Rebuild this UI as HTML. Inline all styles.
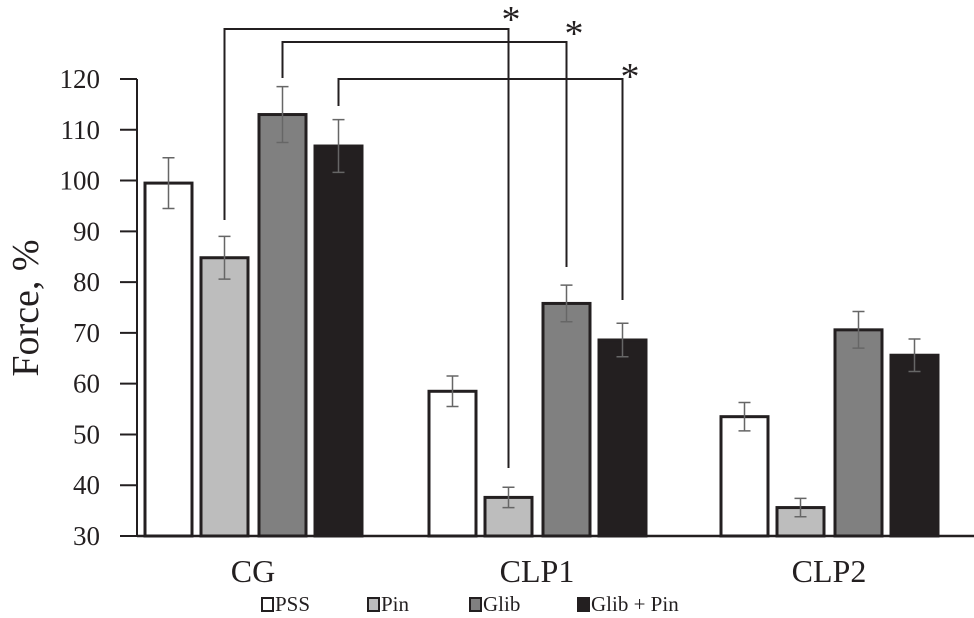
<!DOCTYPE html>
<html><head><meta charset="utf-8"><style>body{margin:0;background:#fff}svg{display:block;font-family:"Liberation Serif",serif}</style></head>
<body>
<svg id="chart" width="974" height="618" viewBox="0 0 974 618"></svg>
<script>
const groups=["CG","CLP1","CLP2"];
const series=["PSS","Pin","Glib","Glib + Pin"];
const pss=[99.5,58.5,53.5];
const pin=[84.8,37.6,35.6];
const glib=[113,75.8,70.6];
const glibPin=[106.8,68.6,65.6];
const pssErr=[5,3,2.8];
const pinErr=[4.2,2,1.8];
const glibErr=[5.5,3.6,3.6];
const glibPinErr=[5.2,3.3,3.2];
const yTicks=[30,40,50,60,70,80,90,100,110,120];
const NS="http://www.w3.org/2000/svg";
const svg=document.getElementById('chart');
function y(v){return 536-(v-30)*(457/90);}
const groupX=[145,429,721];
const barOff=[0,56,114,170];
const barW=47;
function barX(g,s){return groupX[g]+barOff[s];}
function mk(t,a,p){const e=document.createElementNS(NS,t);for(const k in a)e.setAttribute(k,a[k]);(p||svg).appendChild(e);return e;}
const fills=["#ffffff","#bdbdbd","#808080","#231f20"];
const vals=[pss,pin,glib,glibPin];
const errs=[pssErr,pinErr,glibErr,glibPinErr];
let ax=mk('line',{x1:137,y1:79,x2:137,y2:536,stroke:'#231f20','stroke-width':2});


yTicks.forEach(t=>{
 let l=mk('line',{x1:120,x2:137,y1:y(t),y2:y(t),stroke:'#231f20','stroke-width':2});
 
 
 let tx=mk('text',{x:100,y:y(t)+9,'text-anchor':'end','font-size':27,fill:'#231f20'});
 tx.textContent=t;
 
 
});
let yt=mk('text',{x:0,y:0,'font-size':38,fill:'#231f20','text-anchor':'middle',transform:'translate(38,308) rotate(-90)'});
yt.textContent='Force, %';


for(let g=0;g<3;g++){for(let s=0;s<4;s++){
 const v=vals[s][g],x=barX(g,s);
 let r=mk('rect',{x:x,y:y(v),width:barW,height:536-y(v),fill:fills[s],stroke:'#231f20','stroke-width':3});
 
 
 const cx=x+barW/2,e=errs[s][g];
 let eb=mk('path',{d:`M${cx-6},${y(v+e)}H${cx+6}M${cx},${y(v+e)}V${y(v-e)}M${cx-6},${y(v-e)}H${cx+6}`,stroke:'#666',fill:'none','stroke-width':1.5});
 
 
}
 let gl=mk('text',{x:groupX[g]+108,y:582,'text-anchor':'middle','font-size':32,fill:'#231f20'});
 gl.textContent=groups[g];
 
 
}
let base=mk('line',{x1:137,x2:974,y1:536,y2:536,stroke:'#231f20','stroke-width':2.5});


const brk=[[1,29,220,468,511,12],[2,42,78,267,574,26],[3,79,106,300,630,69]];
brk.forEach(b=>{
 const s=b[0],x1=barX(0,s)+barW/2,x2=barX(1,s)+barW/2;
 let p=mk('path',{d:`M${x1},${b[2]}V${b[1]}H${x2}V${b[3]}`,stroke:'#231f20',fill:'none','stroke-width':2});
 
 
 let st=mk('text',{x:b[4],y:b[5]+20,'text-anchor':'middle','font-size':38,fill:'#231f20'});
 st.textContent='*';
 
 
});
const legX=[262,368,470,578];
series.forEach((n,i)=>{
 let r=mk('rect',{x:legX[i],y:598,width:11,height:13,fill:fills[i],stroke:'#231f20','stroke-width':2});
 
 
 let t=mk('text',{x:legX[i]+13,y:611,'font-size':21,fill:'#231f20'});
 t.textContent=n;
 
 
});
</script>
</body></html>
